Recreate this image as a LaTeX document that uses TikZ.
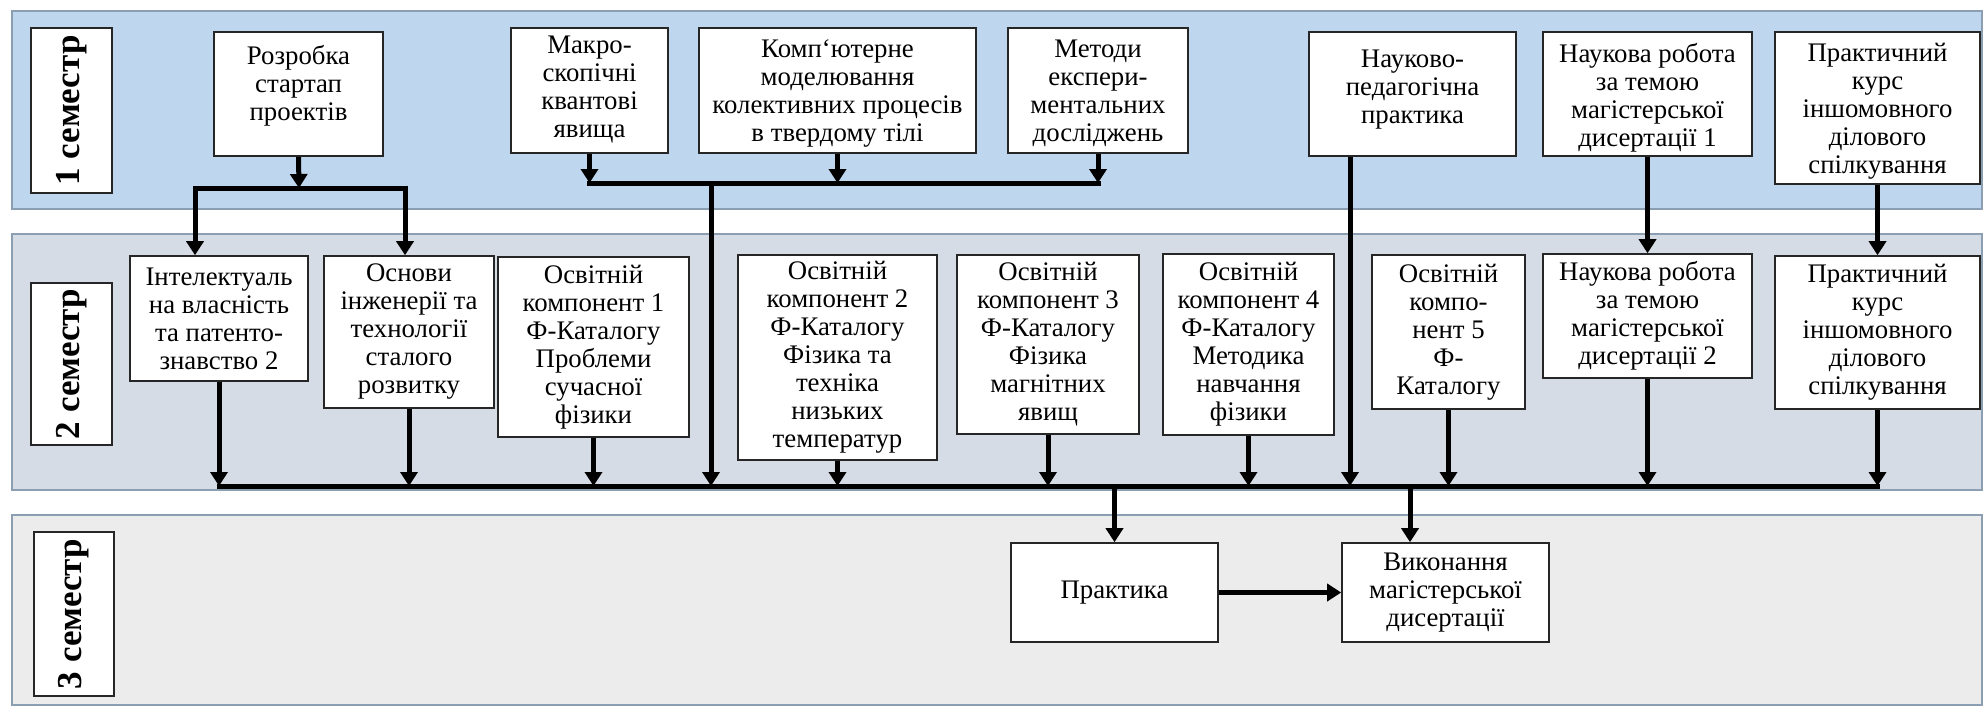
\documentclass[tikz,border=0pt]{standalone}
\usepackage{fontspec}
\setmainfont{Liberation Serif}
\usetikzlibrary{arrows.meta,fit}
\definecolor{bandA}{RGB}{190,214,238}
\definecolor{bandB}{RGB}{214,220,229}
\definecolor{bandC}{RGB}{236,236,236}
\definecolor{bandline}{RGB}{140,158,178}
\begin{document}
\begin{tikzpicture}[x=0.5pt,y=-0.5pt,
  band/.style={draw=bandline, line width=0.7pt},
  box/.style={draw=black!85, fill=white, line width=0.8pt, inner sep=0pt},
  txt/.style={align=center, font=\fontsize{13.4}{14}\selectfont, inner sep=0pt},
  semtxt/.style={rotate=90, font=\bfseries\fontsize{17.5}{20}\selectfont, inner sep=0pt},
  conn/.style={line width=2.5pt, -{Triangle[length=7pt,width=8.5pt]}},
  trunk/.style={line width=2.5pt, line cap=rect}]
\useasboundingbox (0,0) rectangle (1984,708);
\fill[white] (0,0) rectangle (1984,708);
% bands
\draw[band, fill=bandA] (12,11) rectangle (1982,209);
\draw[band, fill=bandB] (12,234) rectangle (1982,490);
\draw[band, fill=bandC] (12,515) rectangle (1982,705);
% semester labels
\node[box, fit={(31,28) (112,193)}] (s1) {};
\node[semtxt] (s1t) at (s1.center) {1 семестр};
\node[box, fit={(31,283) (112,445)}] (s2) {};
\node[semtxt] (s2t) at (s2.center) {2 семестр};
\node[box, fit={(34,532) (114,696)}] (s3) {};
\node[semtxt] (s3t) at (s3.center) {3 семестр};
% band 1 boxes
\node[box, fit={(214,32) (383,156)}] (r1) {};
\node[txt, anchor=north] (r1t) at ([yshift=-7pt]r1.north) {Розробка\\стартап\\проектів};
\node[box, fit={(511,28) (668,153)}] (mk) {};
\node[txt, anchor=north] (mkt) at ([yshift=-4pt]mk.north) {Макро-\\скопічні\\квантові\\явища};
\node[box, fit={(699,28) (976,153)}] (kp) {};
\node[txt, anchor=north] (kpt) at ([yshift=-6pt]kp.north) {Комп`ютерне\\моделювання\\колективних процесів\\в твердому тілі};
\node[box, fit={(1008,28) (1188,153)}] (md) {};
\node[txt, anchor=north] (mdt) at ([yshift=-6pt]md.north) {Методи\\експери-\\ментальних\\досліджень};
\node[box, fit={(1309,32) (1516,156)}] (np) {};
\node[txt, anchor=north] (npt) at ([yshift=-9pt]np.north) {Науково-\\педагогічна\\практика};
\node[box, fit={(1543,32) (1752,156)}] (nr1) {};
\node[txt, anchor=north] (nr1t) at ([yshift=-6pt]nr1.north) {Наукова робота\\за темою\\магістерської\\дисертації 1};
\node[box, fit={(1775,32) (1980,184)}] (pk1) {};
\node[txt, anchor=north] (pk1t) at ([yshift=-6pt]pk1.north) {Практичний\\курс\\іншомовного\\ділового\\спілкування};
% band 2 boxes
\node[box, fit={(130,256) (308,381)}] (ip) {};
\node[txt] (ipt) at (ip.center) {Інтелектуаль\\на власність\\та патенто-\\знавство 2};
\node[box, fit={(324,256) (494,408)}] (os) {};
\node[txt] (ost) at (os.center) {Основи\\інженерії та\\технології\\сталого\\розвитку};
\node[box, fit={(498,257) (689,437)}] (o1) {};
\node[txt] (o1t) at (o1.center) {Освітній\\компонент 1\\Ф-Каталогу\\Проблеми\\сучасної\\фізики};
\node[box, fit={(738,255) (937,460)}] (o2) {};
\node[txt] (o2t) at (o2.center) {Освітній\\компонент 2\\Ф-Каталогу\\Фізика та\\техніка\\низьких\\температур};
\node[box, fit={(957,255) (1139,434)}] (o3) {};
\node[txt] (o3t) at (o3.center) {Освітній\\компонент 3\\Ф-Каталогу\\Фізика\\магнітних\\явищ};
\node[box, fit={(1163,254) (1334,435)}] (o4) {};
\node[txt] (o4t) at (o4.center) {Освітній\\компонент 4\\Ф-Каталогу\\Методика\\навчання\\фізики};
\node[box, fit={(1372,255) (1525,409)}] (o5) {};
\node[txt] (o5t) at (o5.center) {Освітній\\компо-\\нент 5\\Ф-\\Каталогу};
\node[box, fit={(1543,254) (1752,378)}] (nr2) {};
\node[txt] (nr2t) at (nr2.center) {Наукова робота\\за темою\\магістерської\\дисертації 2};
\node[box, fit={(1775,256) (1980,409)}] (pk2) {};
\node[txt] (pk2t) at (pk2.center) {Практичний\\курс\\іншомовного\\ділового\\спілкування};
% band 3 boxes
\node[box, fit={(1011,543) (1218,642)}] (pr) {};
\node[txt] (prt) at (pr.center) {Практика};
\node[box, fit={(1342,543) (1549,642)}] (vk) {};
\node[txt] (vkt) at (vk.center) {Виконання\\магістерської\\дисертації};
% helper coordinates
\coordinate (jr) at (299,188);
\coordinate (jrl) at (195,188);
\coordinate (jrr) at (405,188);
\coordinate (h1) at (0,183);
\coordinate (h2) at (0,486);
\coordinate (tr) at (711,183);
\coordinate (nl) at (1350,0);
\coordinate (jv) at (1410,486);
% band 1 connectors
\draw[conn] (r1.south) -- (jr);
\draw[trunk] (jrl) -- (jrr);
\draw[conn] (jrl) -- (jrl |- ip.north);
\draw[conn] (jrr) -- (jrr |- os.north);
\draw[conn] (mk.south) -- (mk.south |- h1);
\draw[conn] (kp.south) -- (kp.south |- h1);
\draw[conn] (md.south) -- (md.south |- h1);
\draw[trunk] (mk.south |- h1) -- (md.south |- h1);
\draw[conn] (tr) -- (tr |- h2);
\draw[conn] (np.south -| nl) -- (nl |- h2);
\draw[conn] (nr1.south) -- (nr2.north);
\draw[conn] (pk1.south) -- (pk2.north);
% band 2 connectors
\draw[conn] (ip.south) -- (ip.south |- h2);
\draw[conn] (os.south) -- (os.south |- h2);
\draw[conn] (o1.south) -- (o1.south |- h2);
\draw[conn] (o2.south) -- (o2.south |- h2);
\draw[conn] (o3.south) -- (o3.south |- h2);
\draw[conn] (o4.south) -- (o4.south |- h2);
\draw[conn] (o5.south) -- (o5.south |- h2);
\draw[conn] (nr2.south) -- (nr2.south |- h2);
\draw[conn] (pk2.south) -- (pk2.south |- h2);
\draw[trunk] (ip.south |- h2) -- (pk2.south |- h2);
% band 3 connectors
\draw[conn] (pr.north |- h2) -- (pr.north);
\draw[conn] (jv) -- (jv |- vk.north);
\draw[conn] (pr.east) -- (vk.west);
\end{tikzpicture}
\end{document}
